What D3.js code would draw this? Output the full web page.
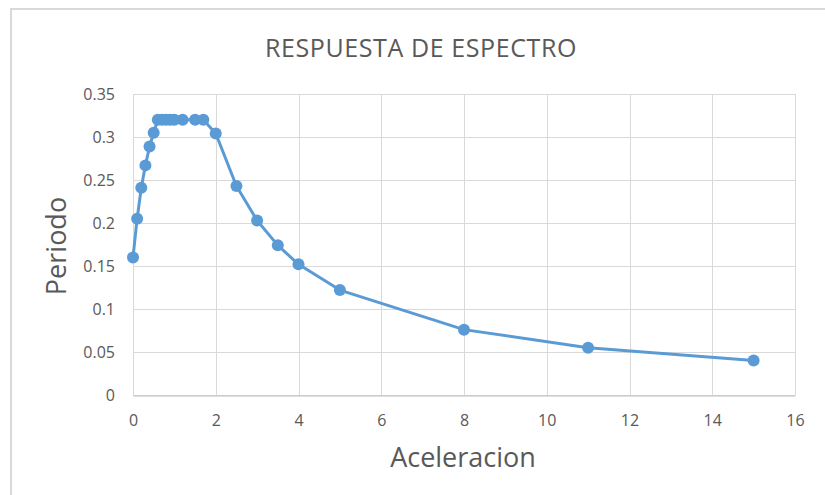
<!DOCTYPE html>
<html>
<head>
<meta charset="utf-8">
<script src="https://cdn.jsdelivr.net/npm/d3@7"></script>
<style>
  html, body { margin: 0; padding: 0; background: #fff; }
  svg { display: block; }
  text { font-family: "Open Sans", "Liberation Sans", sans-serif; fill: #595959; }
</style>
</head>
<body>
<div id="chart"></div>
<script>
// Spectrum response: period vs. acceleration
const aceleracion = [0, 0.1, 0.2, 0.3, 0.4, 0.5, 0.6, 0.7, 0.8, 0.9, 1.0, 1.2, 1.5, 1.7, 2.0, 2.5, 3.0, 3.5, 4.0, 5.0, 8.0, 11.0, 15.0];
const periodo     = [0.16, 0.205, 0.241, 0.267, 0.289, 0.305, 0.32, 0.32, 0.32, 0.32, 0.32, 0.32, 0.32, 0.32, 0.304, 0.243, 0.203, 0.174, 0.152, 0.122, 0.076, 0.055, 0.04];
const xTicks = [0, 2, 4, 6, 8, 10, 12, 14, 16];
const yTicks = [0, 0.05, 0.1, 0.15, 0.2, 0.25, 0.3, 0.35];
const title = "RESPUESTA DE ESPECTRO";
const xTitle = "Aceleracion";
const yTitle = "Periodo";

const W = 825, H = 495;
const plot = { left: 133, right: 795, top: 94, bottom: 395 };
const blue = "#5B9BD5";
const grid = "#D9D9D9";

const svg = d3.select("#chart").append("svg").attr("width", W).attr("height", H);

// chart frame
svg.append("path")
  .attr("d", `M11,${H + 2} V9 H${W + 2}`)
  .attr("fill", "none").attr("stroke", grid).attr("stroke-width", 2);

const x = d3.scaleLinear().domain([0, 16]).range([plot.left, plot.right]);
const y = d3.scaleLinear().domain([0, 0.35]).range([plot.bottom, plot.top]);

// gridlines
const g = svg.append("g");
g.selectAll("line.h").data(yTicks).join("line")
  .attr("x1", plot.left).attr("x2", plot.right)
  .attr("y1", d => Math.round(y(d)) + 0.5).attr("y2", d => Math.round(y(d)) + 0.5)
  .attr("stroke", grid).attr("stroke-width", 1);
g.selectAll("line.v").data(xTicks).join("line")
  .attr("y1", plot.top).attr("y2", plot.bottom)
  .attr("x1", d => Math.round(x(d)) + 0.5).attr("x2", d => Math.round(x(d)) + 0.5)
  .attr("stroke", grid).attr("stroke-width", 1);

// axes
const xAxis = svg.append("g").attr("transform", `translate(0,${plot.bottom + 0.5})`)
  .call(d3.axisBottom(x).tickValues(xTicks).tickSize(0).tickPadding(19).tickFormat(d3.format("d")));
const yAxis = svg.append("g").attr("transform", `translate(${plot.left},0)`)
  .call(d3.axisLeft(y).tickValues(yTicks).tickSize(0).tickPadding(18).tickFormat(d => String(+d.toFixed(2))));
[xAxis, yAxis].forEach(a => {
  a.select(".domain").attr("stroke", "#BFBFBF");
  a.selectAll("text").attr("font-size", 16).attr("fill", "#595959")
    .style("font-family", '"Open Sans", "Liberation Sans", sans-serif');
});
yAxis.select(".domain").remove();
yAxis.selectAll("text").attr("dy", "0.35em");

// series
const pts = aceleracion.map((a, i) => [a, periodo[i]]);
svg.append("path")
  .datum(pts)
  .attr("fill", "none").attr("stroke", blue).attr("stroke-width", 3)
  .attr("stroke-linejoin", "round")
  .attr("d", d3.line().x(d => x(d[0])).y(d => y(d[1])));
svg.append("g").selectAll("circle").data(pts).join("circle")
  .attr("cx", d => x(d[0])).attr("cy", d => y(d[1])).attr("r", 6)
  .attr("fill", blue);

// titles
svg.append("text").attr("x", 421).attr("y", 57).attr("text-anchor", "middle")
  .attr("font-size", 25).attr("letter-spacing", 0.6).text(title);
svg.append("text").attr("x", 463).attr("y", 467).attr("text-anchor", "middle")
  .attr("font-size", 27).text(xTitle);
svg.append("text").attr("transform", "translate(66,246) rotate(-90)")
  .attr("text-anchor", "middle").attr("font-size", 27).text(yTitle);
</script>
</body>
</html>
